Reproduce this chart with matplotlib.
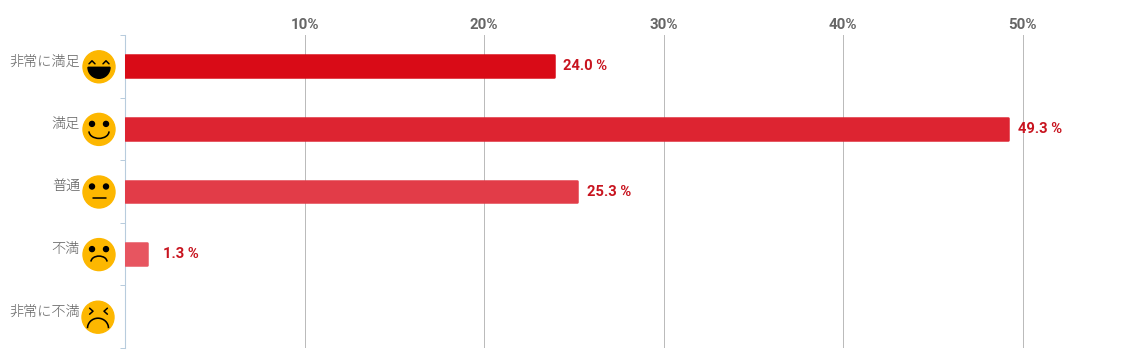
import matplotlib
matplotlib.use("Agg")
import matplotlib.pyplot as plt
from matplotlib.patches import Circle, Arc, Wedge

plt.rcParams['font.family'] = ['Roboto', 'Noto Sans CJK JP', 'DejaVu Sans']

# --- Data
categories = ["非常に満足", "満足", "普通", "不満", "非常に不満"]
values = [24.0, 49.3, 25.3, 1.3, None]
value_labels = ["24.0 %", "49.3 %", "25.3 %", "1.3 %", ""]
faces = ["laugh", "smile", "neutral", "sad", "cry"]
bar_colors = ["#D90B17", "#DD2431", "#E23C48", "#E75560", "#EB6E77"]
x_ticks = [10, 20, 30, 40, 50]

W, H = 1124, 363
fig = plt.figure(figsize=(W / 100, H / 100), dpi=100, facecolor="white")

# axes box in pixels: left 125, right 1112.5, top 35, bottom 348
ax = fig.add_axes([125.0 / W, (H - 348) / H, (1112.5 - 125.0) / W, (348 - 35) / H])
ax.set_xlim(0, 55)
ax.set_ylim(len(categories) - 0.5, -0.5)

for i, (v, c) in enumerate(zip(values, bar_colors)):
    if v is None:
        continue
    # same colour edge with round joins gives the small rounded corners
    ax.barh(i, v - 0.1, height=0.35, color=c, edgecolor=c, linewidth=1.8,
            joinstyle="round", zorder=3)
    offset = 7.5 if v > 5 else 15
    ax.annotate(value_labels[i], (v, i), xytext=(offset * 0.72, 0), textcoords="offset points",
                ha="left", va="center", color="#C8141F", fontsize=10.6, fontweight="bold", zorder=4)

ax.set_xticks(x_ticks)
ax.set_xticklabels([f"{t}%" for t in x_ticks])
ax.xaxis.tick_top()
ax.tick_params(axis="x", length=0, pad=2, labelsize=10.8, labelcolor="#666666")
for lab in ax.get_xticklabels():
    lab.set_fontweight("bold")
ax.grid(axis="x", color="#BBBBBB", linewidth=0.72, zorder=1)

ax.set_yticks([i - 0.5 for i in range(len(categories) + 1)])
ax.set_yticklabels([])
ax.tick_params(axis="y", length=3.5, width=0.72, color="#B8CCDD")
for s in ["top", "right", "bottom"]:
    ax.spines[s].set_visible(False)
ax.spines["left"].set_color("#B8CCDD")
ax.spines["left"].set_linewidth(0.8)

# overlay in pixel coords for the category labels and smileys
ov = fig.add_axes([0, 0, 1, 1], facecolor="none")
ov.set_xlim(0, W)
ov.set_ylim(H, 0)
ov.axis("off")


def draw_face(cx, cy, kind):
    ov.add_patch(Circle((cx, cy), 16, color="#FDB700", zorder=2))
    k = dict(color="black", zorder=3, lw=1.1, solid_capstyle="round")
    arc = dict(color="black", lw=1.15, zorder=3)
    if kind in ("smile", "neutral", "sad"):
        for dx in (-7, 7):
            ov.add_patch(Circle((cx + dx, cy - 5.5), 2.5, color="black", zorder=3))
    if kind == "laugh":
        for dx in (-7, 7):
            ov.plot([cx + dx - 3, cx + dx, cx + dx + 3], [cy - 3, cy - 6, cy - 3], **k)
        # y axis is flipped here, so the wedge opens downward on screen
        ov.add_patch(Wedge((cx, cy + 0.5), 11, 0, 180, color="black", zorder=3))
    elif kind == "smile":
        ov.add_patch(Arc((cx, cy + 2), 20, 14, theta1=0, theta2=180, **arc))
    elif kind == "neutral":
        ov.plot([cx - 6.5, cx + 6.5], [cy + 5.5, cy + 5.5], **k)
    elif kind == "sad":
        ov.add_patch(Arc((cx, cy + 7), 16, 11, theta1=180, theta2=360, **arc))
    else:
        ov.plot([cx - 8.4, cx - 5, cx - 8.4], [cy - 9, cy - 6, cy - 3], **k)
        ov.plot([cx + 9.4, cx + 6, cx + 9.4], [cy - 9, cy - 6, cy - 3], **k)
        ov.add_patch(Arc((cx, cy + 11), 21, 20, theta1=180, theta2=360, **arc))


for i, name in enumerate(categories):
    y_px = H - ax.transData.transform((0, i))[1]
    ov.text(80, y_px - 5, name, ha="right", va="center", color="#606060", fontsize=10.2,
            family=["Noto Sans CJK JP", "DejaVu Sans"], fontweight="light")
    draw_face(99 if i < 4 else 98, y_px + 0.5, faces[i])

fig.savefig("out.png", dpi=100)
